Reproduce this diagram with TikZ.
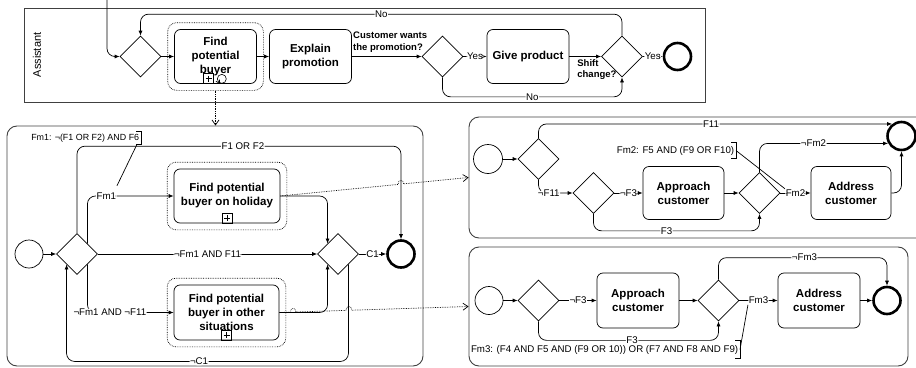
\documentclass[tikz,border=0pt]{standalone}
\usepackage{fontspec}
\setmainfont{Liberation Sans}
\usetikzlibrary{arrows.meta, shapes.geometric, fit, calc}

\begin{document}
\begin{tikzpicture}[x=1pt, y=-1pt, >={Latex[length=5pt, width=4pt]}, line width=0.7pt,
  pool/.style={draw=black!75, line width=0.9pt, inner sep=0pt},
  task/.style={draw, rounded corners=6pt, minimum width=82pt, minimum height=54pt, inner sep=1pt, align=center, font=\bfseries\fontsize{11.5}{14}\selectfont},
  spframe/.style={draw, densely dotted, rounded corners=9pt, inner sep=6.5pt},
  gateway/.style={draw, diamond, minimum width=41pt, minimum height=41pt, inner sep=0pt},
  startevent/.style={draw, circle, minimum size=28pt, inner sep=0pt},
  endevent/.style={draw, circle, minimum size=27pt, inner sep=0pt, line width=2.6pt},
  flow/.style={->, rounded corners=8pt},
  msg/.style={densely dotted, -{Straight Barb[length=5pt, width=7pt]}},
  lbl/.style={fill=white, inner sep=0.5pt, font=\fontsize{9.7}{11}\selectfont},
  qlbl/.style={inner sep=1pt, align=left, font=\bfseries\fontsize{9.5}{11.5}\selectfont},
  note/.style={inner sep=1.5pt, anchor=east, font=\fontsize{9.7}{11}\selectfont},
  plusbox/.style={draw, minimum size=10pt, inner sep=0pt, line width=0.6pt,
    path picture={\draw ([yshift=-2pt]path picture bounding box.north) -- ([yshift=2pt]path picture bounding box.south)
      ([xshift=2pt]path picture bounding box.west) -- ([xshift=-2pt]path picture bounding box.east);}},
  loopmark/.style={draw, circle, minimum size=9pt, inner sep=0pt, line width=0.6pt}]
\useasboundingbox (0, 0) rectangle (916, 367);

\node[pool, minimum width=681pt, minimum height=94pt] (PA) at (364.5, 55) {};
\node[rotate=90, font=\fontsize{11}{13}\selectfont] (LA) at (37, 55) {Assistant};
\coordinate (INA) at (107, 0);
\node[gateway] (GA) at (140.5, 56.5) {};
\node[task] (SPA) at (215.5, 56.5) {Find\\potential\\buyer};
\node[spframe, fit=(SPA)] (SPAF) {};
\node[plusbox, anchor=south east] (SPAP) at ([xshift=-1.5pt]SPA.south) {};
\node[loopmark, anchor=west] (SPAL) at ([xshift=1.5pt, yshift=5pt]SPA.south) {};
\node[task] (TEX) at (310.5, 56.5) {Explain\\promotion};
\node[gateway] (GB) at (442.5, 56.5) {};
\node[task] (TGP) at (528, 56.5) {Give product};
\node[gateway] (GC) at (622, 56.5) {};
\node[endevent] (EA) at (677.5, 56.5) {};
\draw [flow] (INA) |- (GA.west);
\draw [flow] (GA.east) -- (SPA.west);
\draw [flow] (SPA.east) -- (TEX.west);
\draw [flow] (TEX.east) -- node[qlbl, pos=0, anchor=south west, yshift=3pt] {Customer wants\\the promotion?} (GB.west);
\draw [flow] (GB.east) -- node[lbl] {Yes} (TGP.west);
\draw [flow] (TGP.east) -- node[qlbl, pos=0.21, anchor=north west, yshift=-1.5pt] {Shift\\change?} (GC.west);
\draw [flow] (GC.east) -- node[lbl] {Yes} (EA.west);
\draw [flow] (GB.south) -- ++(0, 19.5) -| node[lbl, pos=0.25] {No} (GC.south);
\draw [flow] (GC.north) -- ++(0, -21.5) -| node[lbl, pos=0.25] {No} (GA.north);
\draw [] ([shift={(-2.5, -1)}]SPAL.south west) -- ([shift={(1, 1)}]SPAL.south west) -- ([shift={(1, -2.5)}]SPAL.south west);

\node[pool, rounded corners=10pt, minimum width=416pt, minimum height=240pt] (PB) at (215, 246) {};
\node[note, minimum height=12pt, font=\fontsize{8.9}{11}\selectfont] (NA) at (141, 138) {Fm1: ¬(F1 OR F2) AND F6};
\node[startevent] (SB) at (29, 254) {};
\node[gateway] (GD) at (77, 254) {};
\node[task, minimum width=106pt] (SPB) at (227, 196) {Find potential\\buyer on holiday};
\node[spframe, fit=(SPB)] (SPBF) {};
\node[plusbox, anchor=south] (SPBP) at (SPB.south) {};
\node[task, minimum width=105pt, minimum height=55pt] (SPC) at (226.5, 312.5) {Find potential\\buyer in other\\situations};
\node[spframe, fit=(SPC)] (SPCF) {};
\node[plusbox, anchor=south] (SPCP) at (SPC.south) {};
\node[gateway] (GE) at (338, 254) {};
\node[endevent] (EB) at (401, 254) {};
\draw [] ([xshift=-5pt]NA.north east) -- (NA.north east) -- (NA.south east) -- ([xshift=-5pt]NA.south east);
\draw [flow] (SB.east) -- (GD.west);
\draw [flow] (GD.north) -- ++(0, -87) -| node[lbl, pos=0.256] {F1 OR F2} (EB.north);
\draw [flow] (GD.north east) |- node[lbl, pos=0.61] (LFM1) {Fm1} (SPB.west);
\draw [flow] (GD.south east) |- node[lbl, pos=0.63] {¬Fm1 AND ¬F11} (SPC.west);
\draw [flow] (GD.east) -- node[lbl] {¬Fm1 AND F11} (GE.west);
\draw [flow] (SPB.east) -| (GE.north west);
\draw [flow] (SPC.east) -| (GE.south west);
\draw [flow] (GE.south east) -- ++(0, 97) -| node[lbl, pos=0.265] {¬C1} (GD.south west);
\draw [flow] (GE.east) -- node[lbl] {C1} (EB.west);
\draw [] ([xshift=-4pt]NA.south east) -- ([yshift=6pt]LFM1.north east);
\draw [msg] (SPAF.south) -- (SPAF.south |- PB.north);

\node[pool, rounded corners=10pt, minimum width=461pt, minimum height=121pt] (PC) at (699.5, 177.5) {};
\node[startevent, minimum size=29pt] (SC) at (488, 159) {};
\node[gateway] (GF) at (538.5, 159) {};
\node[gateway] (GG) at (593.5, 193) {};
\node[task, minimum width=81pt, minimum height=53pt] (TAC) at (683.5, 193) {Approach\\customer};
\node[gateway] (GH) at (759.5, 193) {};
\node[task, minimum width=80pt, minimum height=53pt] (TDC) at (851, 193) {Address\\customer};
\node[endevent, minimum size=28pt] (EC) at (901.5, 136) {};
\node[note, minimum height=15pt] (NB) at (736, 150.5) {Fm2: F5 AND (F9 OR F10)};
\draw [] ([xshift=-5pt]NB.north east) -- (NB.north east) -- (NB.south east) -- ([xshift=-5pt]NB.south east);
\draw [flow] (SC.east) -- (GF.west);
\draw [flow] (GF.north) |- node[lbl, pos=0.744] {F11} (EC.128);
\draw [flow] (GF.south) |- node[lbl, pos=0.65] {¬F11} (GG.west);
\draw [flow] (GG.east) -- node[lbl] {¬F3} (TAC.west);
\draw [flow] (GG.south) -- ++(0, 17) -| node[lbl, pos=0.22] {F3} (GH.south);
\draw [flow] (TAC.east) -- (GH.west);
\draw [flow] (GH.north) |- node[lbl, pos=0.71] {¬Fm2} (EC.209);
\draw [flow] (GH.east) -- node[lbl] (LFM2) {Fm2} (TDC.west);
\draw [flow] (TDC.east) -| (EC.south);
\draw [] (NB.east) -- (LFM2.north west);
\draw [msg] (SPB.east) -- ($(SPB.east)!0.625!(PC.west)$) .. controls +(0, -5) and +(0, -5) .. ($(SPB.east)!0.655!(PC.west)$) -- (PC.west);

\node[pool, rounded corners=10pt, minimum width=439pt, minimum height=119pt] (PD) at (688.5, 306.5) {};
\node[startevent] (SD) at (489, 300.5) {};
\node[gateway] (GI) at (538.5, 300.5) {};
\node[task, minimum height=55pt] (TAD) at (638, 300.5) {Approach\\customer};
\node[gateway] (GJ) at (718.5, 300.5) {};
\node[task, minimum height=55pt] (TDD) at (819, 300.5) {Address\\customer};
\node[endevent] (ED) at (887, 300.5) {};
\node[note, minimum height=17pt] (NC) at (740, 349.5) {Fm3: (F4 AND F5 AND (F9 OR 10)) OR (F7 AND F8 AND F9)};
\draw [] ([xshift=-5pt]NC.north east) -- (NC.north east) -- (NC.south east) -- ([xshift=-5pt]NC.south east);
\draw [flow] (SD.east) -- (GI.west);
\draw [flow] (GI.east) -- node[lbl] {¬F3} (TAD.west);
\draw [flow] (GI.south) -- ++(0, 19) -| node[lbl, pos=0.26] {F3} (GJ.south);
\draw [flow] (TAD.east) -- (GJ.west);
\draw [flow] (GJ.north) -- ++(0, -22) -| node[lbl, pos=0.255] {¬Fm3} (ED.north);
\draw [flow] (GJ.east) -- node[lbl] (LFM3) {Fm3} (TDD.west);
\draw [flow] (TDD.east) -- (ED.west);
\draw [] (NC.east) -- (LFM3.south west);
\draw [msg] (SPC.east) -- ($(SPC.east)!0.058!(PD.west)$) .. controls +(0, -5) and +(0, -5) .. ($(SPC.east)!0.088!(PD.west)$)
  -- ($(SPC.east)!0.352!(PD.west)$) .. controls +(0, -5) and +(0, -5) .. ($(SPC.east)!0.383!(PD.west)$) -- (PD.west);
\end{tikzpicture}
\end{document}
